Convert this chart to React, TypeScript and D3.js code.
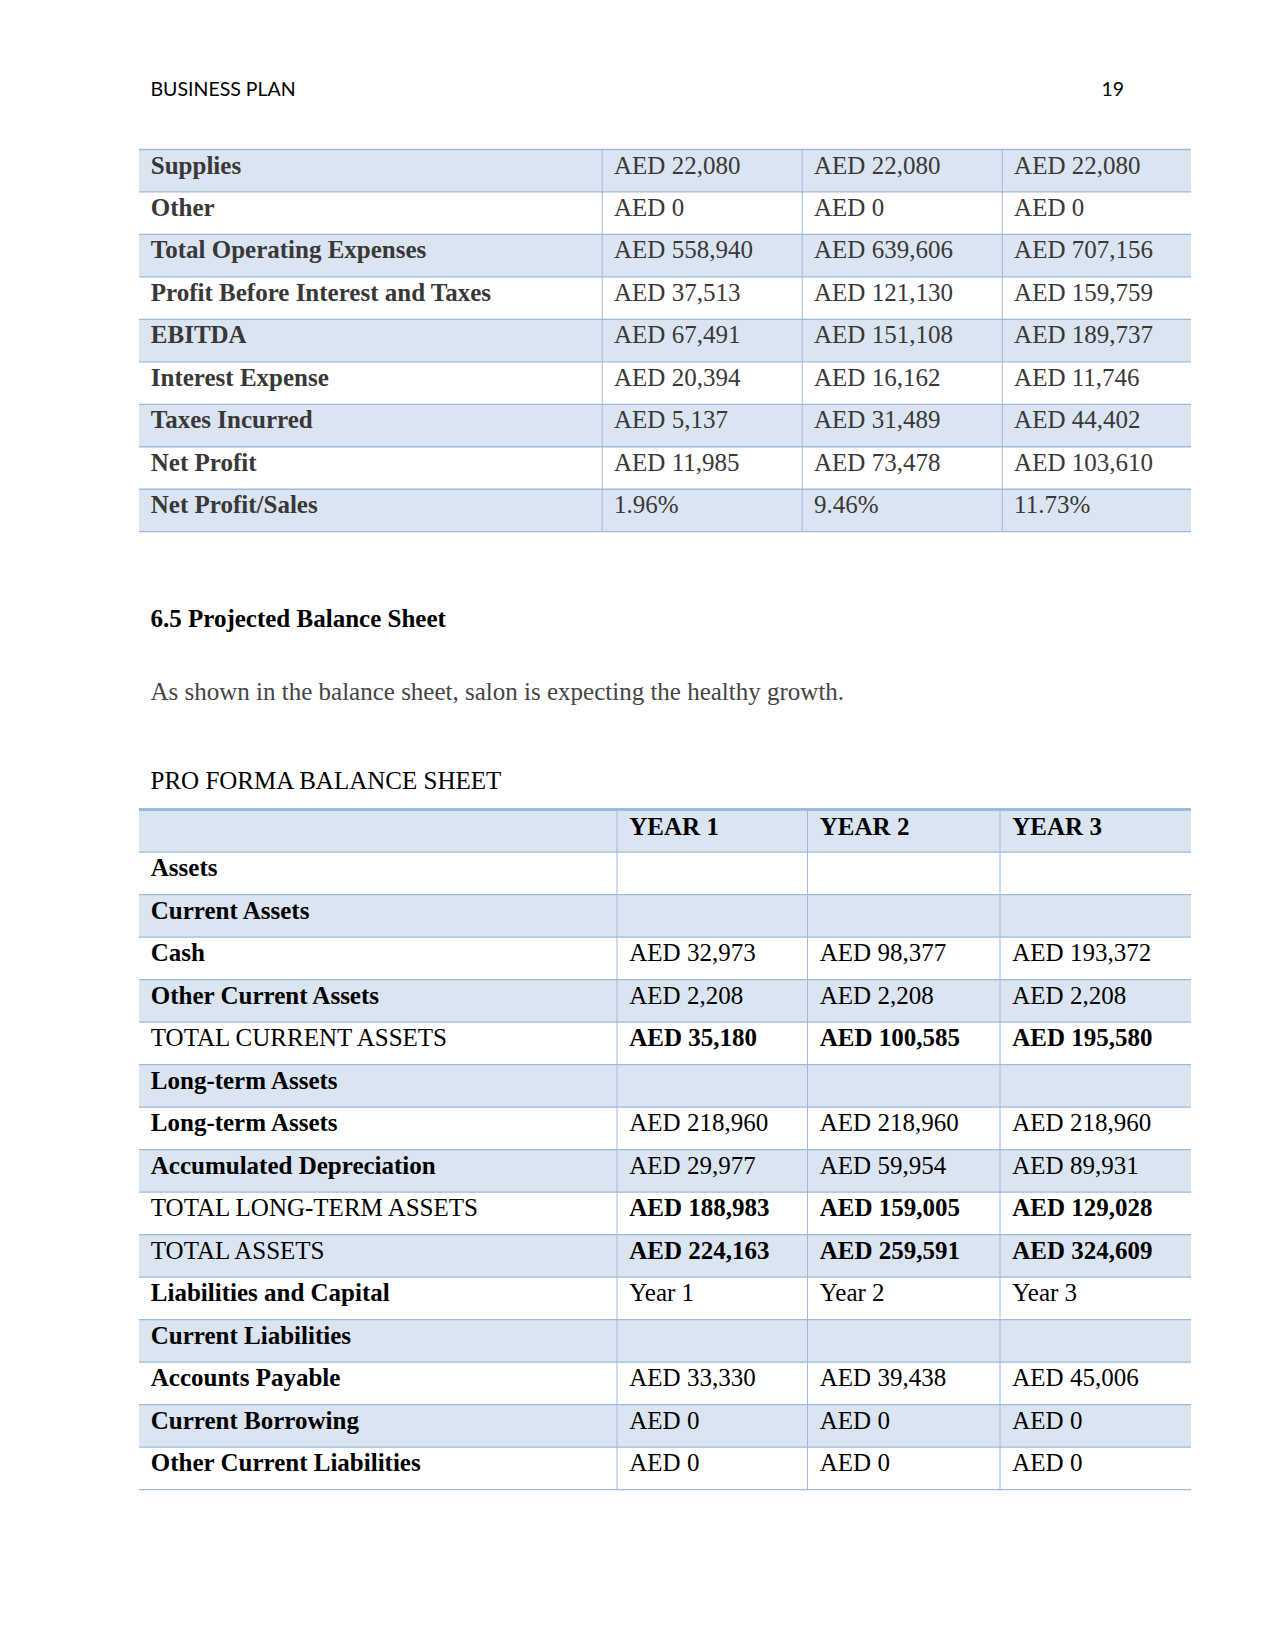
import React from "react";
import * as d3 from "d3";

const headerLeft = "BUSINESS PLAN";
const pageNumber = "19";

const incomeLabels = [
  "Supplies",
  "Other",
  "Total Operating Expenses",
  "Profit Before Interest and Taxes",
  "EBITDA",
  "Interest Expense",
  "Taxes Incurred",
  "Net Profit",
  "Net Profit/Sales",
];
const incomeYear1 = ["AED 22,080", "AED 0", "AED 558,940", "AED 37,513", "AED 67,491", "AED 20,394", "AED 5,137", "AED 11,985", "1.96%"];
const incomeYear2 = ["AED 22,080", "AED 0", "AED 639,606", "AED 121,130", "AED 151,108", "AED 16,162", "AED 31,489", "AED 73,478", "9.46%"];
const incomeYear3 = ["AED 22,080", "AED 0", "AED 707,156", "AED 159,759", "AED 189,737", "AED 11,746", "AED 44,402", "AED 103,610", "11.73%"];

const sectionHeading = "6.5 Projected Balance Sheet";
const bodyText = "As shown in the balance sheet, salon is expecting the healthy growth.";
const tableTitle = "PRO FORMA BALANCE SHEET";

const balanceColumns = ["YEAR 1", "YEAR 2", "YEAR 3"];
const balanceLabels = [
  "Assets",
  "Current Assets",
  "Cash",
  "Other Current Assets",
  "TOTAL CURRENT ASSETS",
  "Long-term Assets",
  "Long-term Assets",
  "Accumulated Depreciation",
  "TOTAL LONG-TERM ASSETS",
  "TOTAL ASSETS",
  "Liabilities and Capital",
  "Current Liabilities",
  "Accounts Payable",
  "Current Borrowing",
  "Other Current Liabilities",
];
// "b" = bold label, regular values; "t" = regular label, bold values
const balanceKinds = ["b", "b", "b", "b", "t", "b", "b", "b", "t", "t", "b", "b", "b", "b", "b"];
const balanceYear1 = ["", "", "AED 32,973", "AED 2,208", "AED 35,180", "", "AED 218,960", "AED 29,977", "AED 188,983", "AED 224,163", "Year 1", "", "AED 33,330", "AED 0", "AED 0"];
const balanceYear2 = ["", "", "AED 98,377", "AED 2,208", "AED 100,585", "", "AED 218,960", "AED 59,954", "AED 159,005", "AED 259,591", "Year 2", "", "AED 39,438", "AED 0", "AED 0"];
const balanceYear3 = ["", "", "AED 193,372", "AED 2,208", "AED 195,580", "", "AED 218,960", "AED 89,931", "AED 129,028", "AED 324,609", "Year 3", "", "AED 45,006", "AED 0", "AED 0"];

const W = 1275;
const H = 1651;
const FILL = "#dbe5f1";
const LINE = "#9dbadb";
const SERIF = "'Liberation Serif', 'Times New Roman', serif";
const SANS = "Lato, 'Open Sans', sans-serif";

export default function App() {
  const tableLeft = 139;
  const tableRight = 1191;

  // Table 1
  const t1Rows = d3.range(incomeLabels.length);
  const y1 = d3.scaleBand<number>().domain(t1Rows).range([149.5, 531.7]);
  const t1Cols = [tableLeft, 602.2, 802.2, 1002.3, tableRight];
  const t1Values = [incomeYear1, incomeYear2, incomeYear3];

  // Table 2
  const t2Rows = d3.range(balanceLabels.length + 1);
  const y2 = d3.scaleBand<number>().domain(t2Rows).range([809.6, 1489.7]);
  const t2Cols = [tableLeft, 617, 807.5, 1000, tableRight];
  const t2Values = [balanceYear1, balanceYear2, balanceYear3];

  const pad = 11.8;
  const baseOff = 24;

  return (
    <svg
      width={W}
      height={H}
      viewBox={`0 0 ${W} ${H}`}
      style={{ position: "absolute", left: 0, top: 0, display: "block", background: "#fff" }}
    >
      <rect x={0} y={0} width={W} height={H} fill="#fff" />
      <text x={150.5} y={96} fontFamily={SANS} fontSize={19.5} fill="#000">
        {headerLeft}
      </text>
      <text x={1124} y={96} fontFamily={SANS} fontSize={19.5} fill="#000" textAnchor="end">
        {pageNumber}
      </text>

      {/* Table 1 */}
      <g>
        {t1Rows.map((i) => (
          <rect
            key={"f" + i}
            x={tableLeft}
            y={y1(i)!}
            width={tableRight - tableLeft}
            height={y1.bandwidth()}
            fill={i % 2 === 0 ? FILL : "#fff"}
          />
        ))}
        {d3.range(incomeLabels.length + 1).map((i) => {
          const yy = i < incomeLabels.length ? y1(i)! : y1.range()[1];
          return <line key={"h" + i} x1={tableLeft} x2={tableRight} y1={yy} y2={yy} stroke={LINE} strokeWidth={1.3} />;
        })}
        {t1Cols.slice(1, 4).map((x, i) => (
          <line key={"v" + i} x1={x} x2={x} y1={149.5} y2={531.7} stroke={LINE} strokeWidth={1} />
        ))}
        {t1Rows.map((i) => (
          <g key={"t" + i} fontFamily={SERIF} fontSize={25} fill="#383838">
            <text x={tableLeft + pad} y={y1(i)! + baseOff} fontWeight="bold">
              {incomeLabels[i]}
            </text>
            {t1Values.map((vals, c) => (
              <text key={c} x={t1Cols[c + 1] + pad} y={y1(i)! + baseOff}>
                {vals[i]}
              </text>
            ))}
          </g>
        ))}
      </g>

      <text x={150.5} y={627} fontFamily={SERIF} fontSize={25} fontWeight="bold" fill="#000">
        {sectionHeading}
      </text>
      <text x={150.5} y={700} fontFamily={SERIF} fontSize={25} fill="#444">
        {bodyText}
      </text>
      <text x={150.5} y={789} fontFamily={SERIF} fontSize={25} fill="#000">
        {tableTitle}
      </text>

      {/* Table 2 */}
      <g>
        {t2Rows.map((i) => (
          <rect
            key={"f" + i}
            x={tableLeft}
            y={y2(i)!}
            width={tableRight - tableLeft}
            height={y2.bandwidth()}
            fill={i % 2 === 0 ? FILL : "#fff"}
          />
        ))}
        {d3.range(1, t2Rows.length + 1).map((i) => {
          const yy = i < t2Rows.length ? y2(i)! : y2.range()[1];
          return <line key={"h" + i} x1={tableLeft} x2={tableRight} y1={yy} y2={yy} stroke={LINE} strokeWidth={1.3} />;
        })}
        <line x1={tableLeft} x2={tableRight} y1={809.6} y2={809.6} stroke={LINE} strokeWidth={3} />
        {t2Cols.slice(1, 4).map((x, i) => (
          <line key={"v" + i} x1={x} x2={x} y1={809.6} y2={1489.7} stroke={LINE} strokeWidth={1} />
        ))}
        <g fontFamily={SERIF} fontSize={25} fill="#000" fontWeight="bold">
          {balanceColumns.map((c, j) => (
            <text key={c} x={t2Cols[j + 1] + 12.3} y={y2(0)! + baseOff + 1}>
              {c}
            </text>
          ))}
        </g>
        {balanceLabels.map((lab, k) => {
          const i = k + 1;
          const bold = balanceKinds[k] === "b";
          return (
            <g key={"t" + k} fontFamily={SERIF} fontSize={25} fill="#000">
              <text x={tableLeft + pad} y={y2(i)! + baseOff} fontWeight={bold ? "bold" : "normal"}>
                {lab}
              </text>
              {t2Values.map((vals, c) => (
                <text
                  key={c}
                  x={t2Cols[c + 1] + 12.3}
                  y={y2(i)! + baseOff}
                  fontWeight={bold ? "normal" : "bold"}
                >
                  {vals[k]}
                </text>
              ))}
            </g>
          );
        })}
      </g>
    </svg>
  );
}
